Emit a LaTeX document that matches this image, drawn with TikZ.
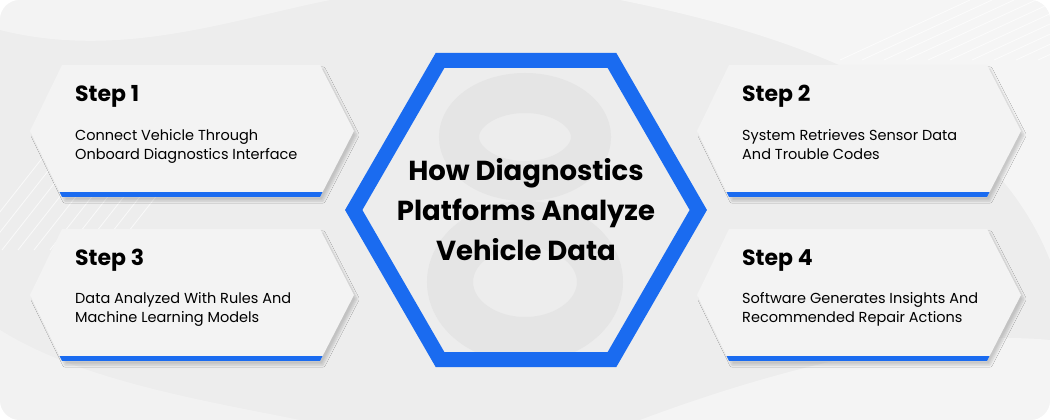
\documentclass[tikz,border=0pt]{standalone}
\usepackage{fontspec}
\setmainfont{Poppins}
\usetikzlibrary{positioning,shadows.blur}

\definecolor{diagblue}{HTML}{1A6BF0}
\definecolor{bggray}{HTML}{EDEDED}
\definecolor{cardgray}{HTML}{F3F3F3}
\definecolor{ghostgray}{HTML}{E5E5E5}

\tikzset{
	steptitle/.style={anchor=base west, inner sep=0pt, font=\fontsize{22}{26}\selectfont\bfseries},
	stepdesc/.style={anchor=north west, align=left, inner sep=0pt, font=\fontsize{14.5}{19.5}\selectfont},
	hubtitle/.style={align=center, inner sep=0pt, font=\fontsize{27.5}{40}\selectfont\bfseries},
	cardfill/.style={fill=cardgray, blur shadow={shadow xshift=3pt, shadow yshift=-4pt, shadow blur steps=6, shadow opacity=18}},
	hexring/.style={draw=diagblue, line width=15pt, line join=miter},
	streak/.style={white, opacity=0.7, line width=0.8pt},
	ghostloop/.style={draw=ghostgray},
}

% card outline, origin at its top left
\newcommand{\cardpath}{(0,66) -- (32,0) -- (290,0) -- (324,66) -- (290,132) -- (32,132) -- cycle}
\newcommand{\stepcard}[2]{%
	\begin{scope}[shift={(#1,#2)}]
		\path[cardfill] \cardpath;
		\begin{scope}
			\clip \cardpath;
			\fill[diagblue] (0,127) rectangle (324,132);
		\end{scope}
	\end{scope}}

\begin{document}
\begin{tikzpicture}[x=1pt, y=-1pt]
	\useasboundingbox (0,0) rectangle (1050,420);
	\fill[white] (0,0) rectangle (1050,420);
	\fill[bggray, rounded corners=20pt] (0,0) rectangle (1050,420);
	
	% background
	\begin{scope}
		\clip[rounded corners=20pt] (0,0) rectangle (1050,420);
		\fill[white, opacity=0.45] (620,0) .. controls (820,40) and (990,110) .. (1050,260) -- (1050,0) -- cycle;
		\fill[white, opacity=0.35] (0,30) .. controls (120,60) and (230,20) .. (330,0) -- (0,0) -- cycle;
		\fill[white, opacity=0.4] (640,420) .. controls (800,360) and (950,330) .. (1050,340) -- (1050,420) -- cycle;
		\fill[white, opacity=0.3] (0,330) .. controls (80,380) and (200,400) .. (300,420) -- (0,420) -- cycle;
		\foreach \i in {0,...,9}
			\draw[streak] (\i*16-30,250) -- ++(110,-140);
		\foreach \i in {0,...,9}
			\draw[streak] (\i*22+840,60) -- ++(130,-60);
		% faint figure eight behind the hexagon
		\draw[ghostloop, line width=40pt] (525,137) ellipse (66pt and 44pt);
		\draw[ghostloop, line width=46pt] (525,282) ellipse (75pt and 58pt);
	\end{scope}
	
	% cards
	\stepcard{30}{65}
	\stepcard{697}{65}
	\stepcard{30}{229}
	\stepcard{697}{229}
	
	% hexagon
	\draw[hexring] (353.7,210) -- (440,60.5) -- (612,60.5) -- (698.3,210) -- (612,359.5) -- (440,359.5) -- cycle;
	\node[hubtitle] (hub) at (526,210) {How Diagnostics\\Platforms Analyze\\Vehicle Data};
	
	% steps
	\node[steptitle] (s1) at (75,102) {Step 1};
	\node[stepdesc, below right=27pt and 0pt of s1.base west] (d1) {Connect Vehicle Through\\Onboard Diagnostics Interface};
	
	\node[steptitle] (s2) at (742,102) {Step 2};
	\node[stepdesc, below right=27pt and 0pt of s2.base west] (d2) {System Retrieves Sensor Data\\And Trouble Codes};
	
	\node[steptitle] (s3) at (75,265) {Step 3};
	\node[stepdesc, below right=27pt and 0pt of s3.base west] (d3) {Data Analyzed With Rules And\\Machine Learning Models};
	
	\node[steptitle] (s4) at (742,265) {Step 4};
	\node[stepdesc, below right=27pt and 0pt of s4.base west] (d4) {Software Generates Insights And\\Recommended Repair Actions};
\end{tikzpicture}
\end{document}
